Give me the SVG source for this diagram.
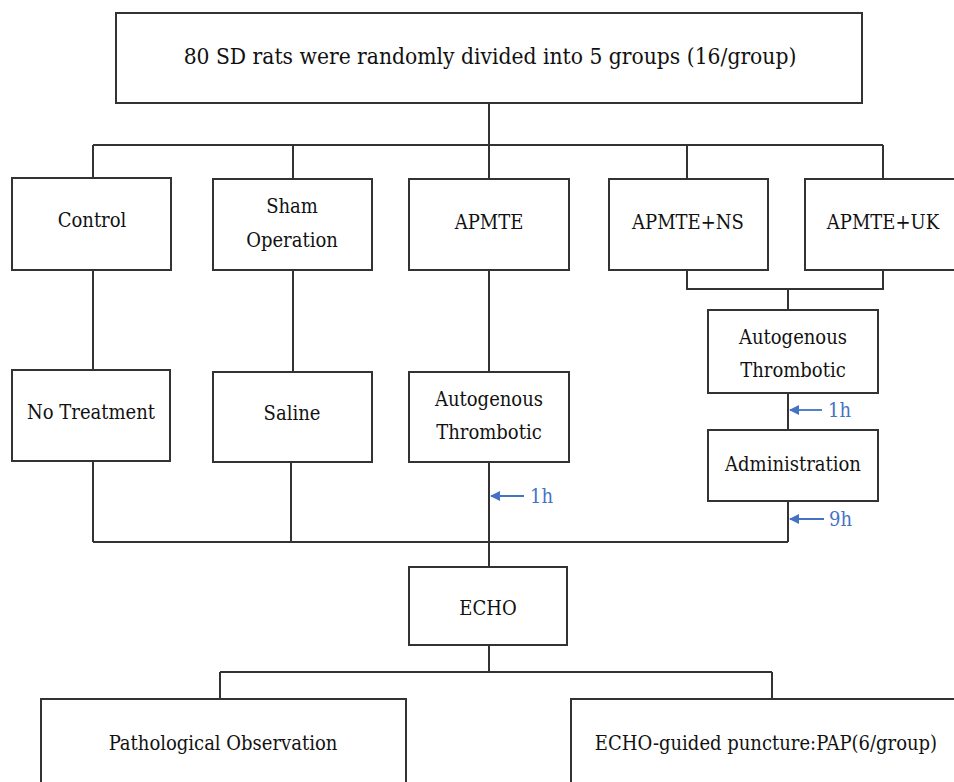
<svg xmlns="http://www.w3.org/2000/svg" width="954" height="782" viewBox="0 0 954 782">
<style>
.box{fill:#fff;stroke:#333;stroke-width:2}
.t{font-family:'DejaVu Serif Condensed','DejaVu Serif',serif;font-stretch:condensed;font-size:20px;fill:#111;text-anchor:middle}
.big{font-size:22.6px}
.ln{fill:none;stroke:#333;stroke-width:2}
.blue{stroke:#4472C4;stroke-width:1.8;fill:none}
.bt{font-family:'DejaVu Serif Condensed','DejaVu Serif',serif;font-stretch:condensed;font-size:20px;fill:#4472C4}
</style>
<defs>
<marker id="ah" viewBox="0 0 10 10" refX="9" refY="5" markerWidth="10" markerHeight="10" markerUnits="userSpaceOnUse" orient="auto">
<path d="M0,0 L10,5 L0,10 z" fill="#4472C4"/>
</marker>
</defs>
<rect width="954" height="782" fill="#fff"/>
<g id="connectors">
<path class="ln" d="M489,103 V145 M93,145 H883 M93,145 V178 M293,145 V178 M489,145 V178 M687,145 V178 M883,145 V178"/>
<path class="ln" d="M93,270 V370 M293,270 V372 M489,270 V372"/>
<path class="ln" d="M687,270 V289 H883 V270 M788,289 V310 M788,393 V430 M788,501 V542"/>
<path class="ln" d="M93,461 V542 M291,462 V542 M489,462 V567 M93,542 H788"/>
<path class="ln" d="M489,645 V672 M220,672 H772 M220,672 V699 M772,672 V699"/>
<line class="blue" x1="524" y1="496" x2="491" y2="496" marker-end="url(#ah)"/>
<text class="bt" x="530" y="503">1h</text>
<line class="blue" x1="822" y1="410" x2="790" y2="410" marker-end="url(#ah)"/>
<text class="bt" x="828" y="417">1h</text>
<line class="blue" x1="824" y1="519" x2="790" y2="519" marker-end="url(#ah)"/>
<text class="bt" x="829" y="526">9h</text>
</g>
<g id="top"><rect class="box" x="116" y="13" width="746" height="90"/><text class="t big" x="490" y="64">80 SD rats were randomly divided into 5 groups (16/group)</text></g>
<g id="control"><rect class="box" x="12" y="178" width="159" height="92"/><text class="t" x="92" y="227">Control</text></g>
<g id="sham"><rect class="box" x="213" y="179" width="159" height="91"/><text class="t" x="292" y="213">Sham</text><text class="t" x="292" y="247">Operation</text></g>
<g id="apmte"><rect class="box" x="409" y="179" width="160" height="91"/><text class="t" x="489" y="229">APMTE</text></g>
<g id="apmte-ns"><rect class="box" x="609" y="179" width="159" height="91"/><text class="t" x="688" y="229">APMTE+NS</text></g>
<g id="apmte-uk"><rect class="box" x="805" y="179" width="150" height="91"/><text class="t" x="883" y="229">APMTE+UK</text></g>
<g id="no-treatment"><rect class="box" x="12" y="370" width="158" height="91"/><text class="t" x="91" y="419">No Treatment</text></g>
<g id="saline"><rect class="box" x="213" y="372" width="159" height="90"/><text class="t" x="292" y="420">Saline</text></g>
<g id="auto-mid"><rect class="box" x="409" y="372" width="160" height="90"/><text class="t" x="489" y="406">Autogenous</text><text class="t" x="489" y="439">Thrombotic</text></g>
<g id="auto-right"><rect class="box" x="708" y="310" width="170" height="83"/><text class="t" x="793" y="344">Autogenous</text><text class="t" x="793" y="377">Thrombotic</text></g>
<g id="administration"><rect class="box" x="708" y="430" width="170" height="71"/><text class="t" x="793" y="471">Administration</text></g>
<g id="echo"><rect class="box" x="409" y="567" width="158" height="78"/><text class="t" x="488" y="615">ECHO</text></g>
<g id="pathology"><rect class="box" x="41" y="699" width="365" height="110"/><text class="t" x="223" y="750">Pathological Observation</text></g>
<g id="pap"><rect class="box" x="571" y="699" width="400" height="110"/><text class="t" x="766" y="750">ECHO-guided puncture:PAP(6/group)</text></g>
</svg>
